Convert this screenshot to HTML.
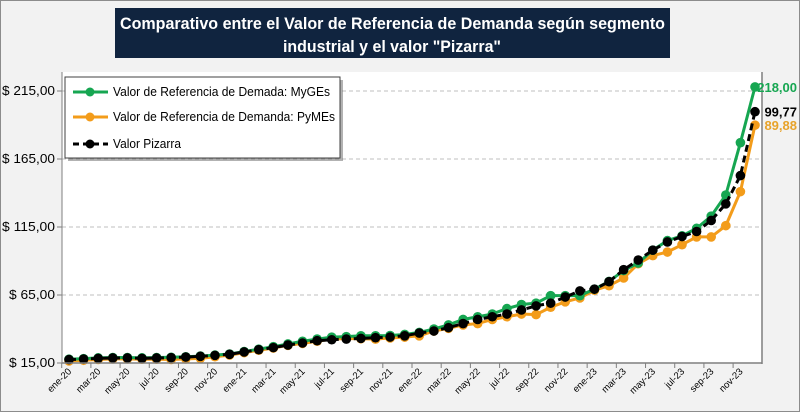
<!DOCTYPE html>
<html><head><meta charset="utf-8"><style>
body{margin:0;width:800px;height:412px;overflow:hidden;background:#fff;font-family:"Liberation Sans",sans-serif}
</style></head><body>
<svg width="800" height="412" xmlns="http://www.w3.org/2000/svg" font-family="Liberation Sans, sans-serif">
<rect x="0.5" y="0.5" width="799" height="411" fill="#f2f2f2" stroke="#8c8c8c"/>
<rect x="115" y="8" width="555" height="50" fill="#10243f"/>
<text fill="#fff" font-weight="bold" font-size="17" x="120" y="29" textLength="545" lengthAdjust="spacingAndGlyphs">Comparativo entre el Valor de Referencia de Demanda según segmento</text>
<text fill="#fff" font-weight="bold" font-size="17" x="283" y="52" textLength="218" lengthAdjust="spacingAndGlyphs">industrial y el valor "Pizarra"</text>
<rect x="62" y="72" width="700" height="291" fill="#fff"/>
<line x1="762" y1="72" x2="762" y2="364" stroke="#7f7f7f" stroke-width="1.5"/>
<g id="grid"></g><g id="series"></g><g id="axes"></g>
<g>
<rect x="68" y="80" width="275" height="81" fill="#666" opacity="0.5"/>
<rect x="65" y="77" width="275" height="81" fill="#fff" stroke="#404040"/>
<line x1="73" y1="92" x2="108" y2="92" stroke="#16a651" stroke-width="3"/><circle cx="90" cy="92" r="4.5" fill="#16a651"/>
<text x="113" y="96" font-size="12.5" fill="#000" textLength="217" lengthAdjust="spacingAndGlyphs">Valor de Referencia de Demada: MyGEs</text>
<line x1="73" y1="117" x2="108" y2="117" stroke="#f39c1a" stroke-width="3"/><circle cx="90" cy="117" r="4.5" fill="#f39c1a"/>
<text x="113" y="121" font-size="12.5" fill="#000" textLength="222" lengthAdjust="spacingAndGlyphs">Valor de Referencia de Demanda: PyMEs</text>
<line x1="73" y1="144" x2="108" y2="144" stroke="#000" stroke-width="3" stroke-dasharray="6,4"/><circle cx="90" cy="144" r="4.5" fill="#000"/>
<text x="113" y="148" font-size="12.5" fill="#000" textLength="68" lengthAdjust="spacingAndGlyphs">Valor Pizarra</text>
</g>
</svg>
<script>
const months=["ene","feb","mar","abr","may","jun","jul","ago","sep","oct","nov","dic"];
const years=["20","21","22","23"];
const yTicks=[15,65,115,165,215];
const yTickLabels=["$ 15,00","$ 65,00","$ 115,00","$ 165,00","$ 215,00"];
const myges=[17.8,18.2,18.8,19,19,18.8,19,19.2,19.6,20.1,20.8,21.6,23.4,25.2,27,29,31,32.6,34,34.4,35,35,35.2,36,37.5,40,43,47,49,51,55,58,59,64.5,64.5,64.5,69.3,75,83,88.5,98,105,108.5,114,123,138.5,177,218];
const pymes=[16.5,17,17.6,18,18,17.8,17.8,17.6,18,18.4,19.6,20.8,22.6,24.4,26,28,29.4,31,32.6,33,32.8,32.6,33.4,34,35,38.5,40.5,43,44,47,49,51,50.6,56,60,62.8,68.5,71.8,77.5,88,94,96.6,102,107.7,107.7,116,141,189.88];
const pizarra=[17.5,17.9,18.4,18.7,18.7,18.4,18.7,18.9,19.4,19.9,20.6,21.4,23.1,24.8,26.3,28.2,29.7,31.4,32.1,32.6,33.1,33.6,34.1,35,37,38.5,41,44,47,49,51,54,57,59,63.5,68,69.3,74.8,83.6,90.7,98,104,108,111.7,119.8,132,152.8,199.77];
const endLabels=["218,00","89,88","99,77"];
const NS="http://www.w3.org/2000/svg";
const x0=69,x1=755,yMin=15,yPx0=363,pxPer=1.36;
const n=pizarra.length;
const X=i=>x0+i*(x1-x0)/(n-1);
const Y=v=>yPx0-(v-yMin)*pxPer;
function mk(t,a,p){const e=document.createElementNS(NS,t);for(const k in a)e.setAttribute(k,a[k]);p.appendChild(e);return e;}
const grid=document.getElementById('grid'),axes=document.getElementById('axes'),ser=document.getElementById('series');
yTicks.forEach((v,i)=>{
 if(i>0){const g=mk('line',{x1:62,x2:762,y1:Y(v),y2:Y(v),stroke:'#bfbfbf','stroke-dasharray':'4,3'},grid);
 
 }
 mk('line',{x1:57,x2:62,y1:Y(v),y2:Y(v),stroke:'#7f7f7f'},axes);
 const lab=yTickLabels[i];
 const t=mk('text',{x:55-(lab.length>7?53:46),y:Y(v)+4,'font-size':'12.5',fill:'#000',textLength:(lab.length>7?53:46),lengthAdjust:'spacingAndGlyphs'},axes);
 t.textContent=lab;
 
 
});
mk('line',{x1:62,x2:62,y1:72,y2:363,stroke:'#7f7f7f'},axes);
mk('line',{x1:62,x2:762,y1:363,y2:363,stroke:'#7f7f7f','stroke-width':1.5},axes);
for(let i=0;i<n;i++){
 if(i%2===0){
  const bx=X(i)-(x1-x0)/(n-1)/2;
  mk('line',{x1:bx,x2:bx,y1:363,y2:368,stroke:'#7f7f7f'},axes);
  const lx=X(i)+3,ly=372;
  const t=mk('text',{x:lx,y:ly,'text-anchor':'end','font-size':'9.5',fill:'#000',transform:`rotate(-45 ${lx} ${ly})`},axes);
  t.textContent=months[i%12]+"-"+years[Math.floor(i/12)];
  
  
 }
}
function draw(vals,color,dash,name){
 const g=mk('g',{},ser);
 
 
 mk('polyline',{points:vals.map((v,i)=>X(i)+','+Y(v)).join(' '),fill:'none',stroke:color,'stroke-width':3,'stroke-dasharray':dash||'none'},g);
 vals.forEach((v,i)=>{const c=mk('circle',{cx:X(i),cy:Y(v),r:4.8,fill:color},g);
 
 });
}
draw(pymes,'#f39c1a',null,'series-pymes');
draw(myges,'#16a651',null,'series-myges');
draw(pizarra,'#000','7,4','series-pizarra');
[[myges,'#16a651',0],[pymes,'#e8a32a',1],[pizarra,'#000',2]].forEach(([s,c,k])=>{
 const t=mk('text',{x:797,y:Y(s[n-1])+5,'text-anchor':'end','font-size':'13','font-weight':'bold',fill:c},ser);
 t.textContent=endLabels[k];
 
 
});
</script>
</body></html>
